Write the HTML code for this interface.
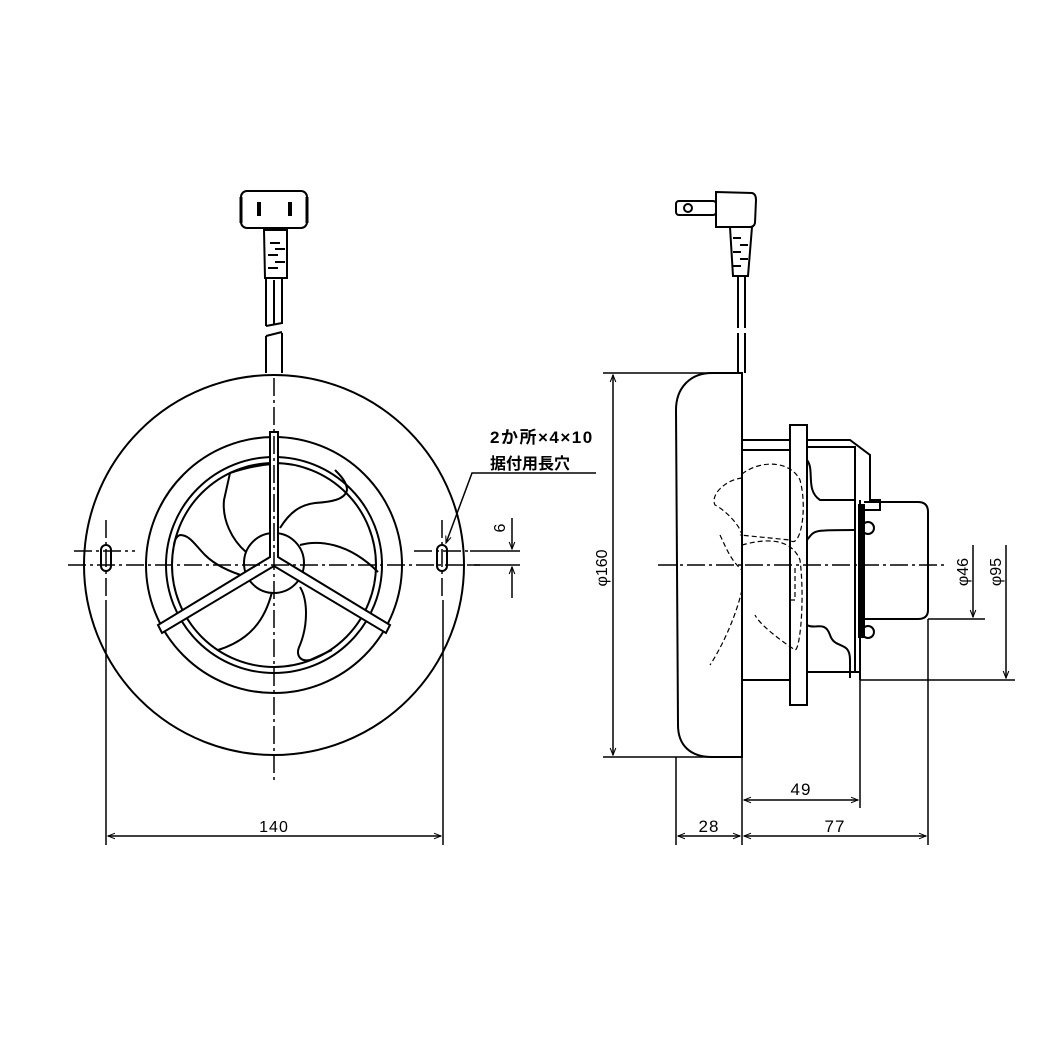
<!DOCTYPE html>
<html><head><meta charset="utf-8"><style>
html,body{margin:0;padding:0;background:#fff}
svg{display:block}
text{font-family:"Liberation Sans","Noto Sans CJK JP",sans-serif;fill:#000}
</style></head><body>
<svg width="1057" height="1057" viewBox="0 0 1057 1057" xmlns="http://www.w3.org/2000/svg">
<defs>
<marker id="a" viewBox="0 0 10 10" refX="10" refY="5" markerWidth="9" markerHeight="7" orient="auto-start-reverse" markerUnits="userSpaceOnUse"><path d="M0,1 L10,5 L0,9" fill="none" stroke="#000" stroke-width="1.5"/></marker>
</defs>
<g fill="none" stroke="#000" stroke-width="2">
<!-- LEFT VIEW -->
<circle cx="274" cy="565" r="190"/>
<circle cx="274" cy="565" r="128"/>
<circle cx="274" cy="565" r="108"/>
<circle cx="274" cy="565" r="102"/>
<circle cx="274" cy="563" r="30"/>
<!-- blades -->
<path d="M246,552 C232,540 222,520 224,500 L230,473 C245,468 260,465 272,464"/>
<path d="M280,528 C290,512 300,505 315,503 C330,502 345,500 347,490 C347,482 340,475 335,470"/>
<path d="M300,545 C318,540 348,542 378,572"/>
<path d="M300,587 C308,600 308,625 300,645 C295,655 300,662 310,660 L332,650"/>
<path d="M272,592 C265,620 250,640 218,650"/>
<path d="M247,577 C230,572 215,565 205,555 C195,545 190,535 180,535 C175,537 174,543 174,546"/>
<!-- spokes -->
<path d="M270,432 L278,432 L278,557 L390,625 L386,633 L274,566 L162,633 L158,625 L270,557 Z" fill="#fff"/>
<!-- slots -->
<rect x="101" y="545" width="10" height="26" rx="5"/>
<rect x="437" y="545" width="10" height="26" rx="5"/>
<!-- cord -->
<path d="M266,373 L266,336 M282,373 L282,333 M266,336 L282,332"/>
<path d="M266,326 L266,278 M282,324 L282,278 M266,326 L282,323 M274,280 L274,325"/>
<path d="M265,278 L264,230 L287,230 L287,278 Z"/>
<path d="M270,243 h10 M268,255 h10 M275,249 h10 M275,262 h10 M268,268 h10"/>
<rect x="241" y="191" width="66" height="37" rx="6"/>
<path d="M241,197 v26 M307,197 v26" stroke-width="3"/>
<path d="M259,202 v14 M290,202 v14" stroke-width="4"/>
</g>
<!-- center lines -->
<g fill="none" stroke="#000" stroke-width="1.5" stroke-dasharray="18,4,3,4">
<line x1="68" y1="565" x2="480" y2="565"/>
<line x1="274" y1="378" x2="274" y2="780"/>
<line x1="74" y1="551" x2="135" y2="551"/>
<line x1="414" y1="551" x2="470" y2="551"/>
<line x1="106" y1="520" x2="106" y2="600"/>
<line x1="442" y1="520" x2="442" y2="600"/>
<line x1="658" y1="565" x2="945" y2="565"/>
</g>
<g fill="none" stroke="#000" stroke-width="1.5">
<line x1="106" y1="600" x2="106" y2="845"/>
<line x1="443" y1="600" x2="443" y2="845"/>
<line x1="108" y1="836" x2="441" y2="836" marker-start="url(#a)" marker-end="url(#a)"/>
<line x1="470" y1="551" x2="520" y2="551"/>
<line x1="470" y1="565" x2="520" y2="565"/>
<line x1="512" y1="518" x2="512" y2="549" marker-end="url(#a)"/>
<line x1="512" y1="598" x2="512" y2="567" marker-end="url(#a)"/>
<polyline points="596,473 472,473 446,543" marker-end="url(#a)"/>
</g>
<text x="490" y="443" font-size="17" font-weight="bold" letter-spacing="1.5">2か所×4×10</text>
<text x="490" y="469" font-size="16" font-weight="bold">据付用長穴</text>
<text x="505" y="528" font-size="16" transform="rotate(-90 505 528)" text-anchor="middle">6</text>
<text x="274" y="832" font-size="16" text-anchor="middle" letter-spacing="1">140</text>

<!-- RIGHT VIEW -->
<g fill="none" stroke="#000" stroke-width="2">
<path d="M742,373 L742,757 L712,757 C690,757 678,745 678,725 L676,410 C676,388 690,373 712,373 Z"/>
<rect x="790" y="425" width="17" height="280"/>
<path d="M742,440 L790,440 M742,450 L790,450 M807,440 L850,440 L870,455 L870,500 L880,500 L880,510 L862,510"/>
<path d="M807,447 L855,447 L855,505"/>
<path d="M807,460 C815,470 805,490 820,500 L855,500"/>
<path d="M807,540 C815,530 812,530 855,530"/>
<path d="M807,625 C815,630 825,620 830,635 C835,650 850,640 850,660 L850,678"/>
<path d="M807,672 L860,672 L860,680 M742,680 L790,680"/>
<path d="M855,505 L855,672 M860,500 L860,680"/>
<rect x="859" y="505" width="5" height="132" fill="#000"/>
<path d="M864,502 L918,502 Q928,502 928,512 L928,610 Q928,619 918,619 L864,619"/>
<circle cx="868" cy="528" r="6"/>
<circle cx="868" cy="632" r="6"/>
<path d="M738,373 L738,333 M745,373 L745,333 M738,328 L738,276 M745,328 L745,276"/>
<path d="M730,227 L752,227 L748,276 L733,276 Z"/>
<path d="M733,238 h8 M740,245 h8 M733,252 h8 M740,259 h8 M733,266 h8"/>
<path d="M716,192 L752,193 Q756,194 756,200 L755,223 Q754,227 750,227 L716,227 Z"/>
<rect x="676" y="201" width="40" height="14" rx="3"/>
<circle cx="688" cy="208" r="4"/>
</g>
<g fill="none" stroke="#000" stroke-width="1.2" stroke-dasharray="5,3">
<path d="M742,474 C760,460 790,460 800,480 C808,510 800,550 790,540 L740,535"/>
<path d="M742,478 C725,480 710,495 715,505 C725,510 740,525 742,535"/>
<path d="M742,545 C760,540 790,535 800,560 C805,600 800,650 795,650 C780,640 760,625 755,615"/>
<path d="M742,590 C735,620 720,650 710,665"/>
<path d="M720,535 C725,545 730,560 742,570"/>
<path d="M790,600 L795,600 L795,565"/>
</g>
<g fill="none" stroke="#000" stroke-width="1.5">
<line x1="603" y1="373" x2="740" y2="373"/>
<line x1="603" y1="757" x2="740" y2="757"/>
<line x1="613" y1="375" x2="613" y2="755" marker-start="url(#a)" marker-end="url(#a)"/>
<line x1="928" y1="619" x2="985" y2="619"/>
<line x1="860" y1="680" x2="1015" y2="680"/>
<line x1="973" y1="545" x2="973" y2="617" marker-end="url(#a)"/>
<line x1="1006" y1="545" x2="1006" y2="678" marker-end="url(#a)"/>
<line x1="676" y1="757" x2="676" y2="845"/>
<line x1="742" y1="757" x2="742" y2="845"/>
<line x1="860" y1="680" x2="860" y2="808"/>
<line x1="928" y1="619" x2="928" y2="845"/>
<line x1="744" y1="800" x2="858" y2="800" marker-start="url(#a)" marker-end="url(#a)"/>
<line x1="678" y1="836" x2="740" y2="836" marker-start="url(#a)" marker-end="url(#a)"/>
<line x1="744" y1="836" x2="926" y2="836" marker-start="url(#a)" marker-end="url(#a)"/>
</g>
<text x="607" y="568" font-size="16" transform="rotate(-90 607 568)" text-anchor="middle">φ160</text>
<text x="968" y="572" font-size="16" transform="rotate(-90 968 572)" text-anchor="middle">φ46</text>
<text x="1001" y="572" font-size="16" transform="rotate(-90 1001 572)" text-anchor="middle">φ95</text>
<text x="801" y="795" font-size="17" text-anchor="middle" letter-spacing="1">49</text>
<text x="709" y="832" font-size="17" text-anchor="middle" letter-spacing="1">28</text>
<text x="835" y="832" font-size="17" text-anchor="middle" letter-spacing="1">77</text>
</svg>
</body></html>
